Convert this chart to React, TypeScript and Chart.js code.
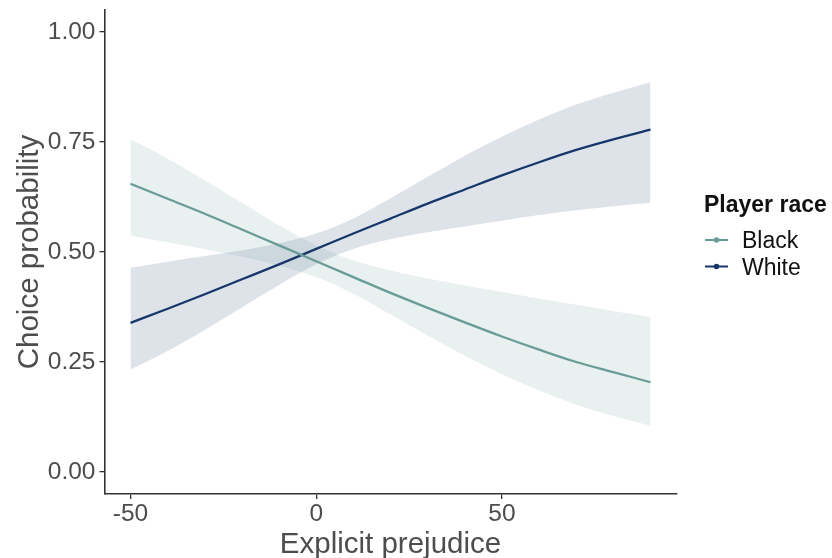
import React, { useEffect, useRef } from "react";
import { Chart, registerables } from "chart.js";

Chart.register(...registerables);

// ---- data ----
const xValues = [-50, -40, -30, -20, -10, 0, 10, 20, 30, 40, 50, 60, 70, 80, 90];

const blackFit = [0.655, 0.621, 0.587, 0.551, 0.515, 0.479, 0.443, 0.407, 0.373, 0.34, 0.308, 0.278, 0.25, 0.227, 0.204];
const blackUpper = [0.756, 0.712, 0.663, 0.612, 0.56, 0.515, 0.481, 0.458, 0.44, 0.424, 0.409, 0.394, 0.38, 0.366, 0.352];
const blackLower = [0.537, 0.522, 0.506, 0.489, 0.469, 0.443, 0.405, 0.358, 0.31, 0.264, 0.222, 0.185, 0.153, 0.127, 0.105];

const whiteFit = [0.339, 0.371, 0.404, 0.438, 0.472, 0.507, 0.542, 0.576, 0.61, 0.642, 0.674, 0.704, 0.732, 0.756, 0.778];
const whiteUpper = [0.464, 0.478, 0.491, 0.504, 0.52, 0.542, 0.576, 0.622, 0.671, 0.719, 0.762, 0.801, 0.835, 0.862, 0.886];
const whiteLower = [0.233, 0.275, 0.323, 0.374, 0.425, 0.472, 0.507, 0.529, 0.545, 0.558, 0.571, 0.584, 0.595, 0.604, 0.612];

const seriesNames = ["Black", "White"];
const xTickValues = [-50, 0, 50];
const yTickValues = [0, 0.25, 0.5, 0.75, 1];
const legendTitle = "Player race";
const xTitle = "Explicit prejudice";
const yTitle = "Choice probability";

// ---- styles ----
const FONT = '"Liberation Sans", Arial, Helvetica, sans-serif';
const LINE_COLORS: Record<string, string> = { Black: "#6a9c97", White: "#17376a" };
const FILL_COLORS: Record<string, string> = {
  Black: "rgba(106,156,151,0.15)",
  White: "rgba(23,55,106,0.14)",
};
const AXIS_COLOR = "#333333";
const TEXT_COLOR = "#4d4d4d";

const W = 832;
const H = 558;

export default function App() {
  const ref = useRef<HTMLCanvasElement>(null);

  useEffect(() => {
    if (!ref.current) return;
    const pts = (ys: number[]) => xValues.map((x, i) => ({ x, y: ys[i] }));

    const ribbon = (name: string, upper: number[], lower: number[]) => [
      {
        label: name + " upper",
        data: pts(upper),
        borderColor: "transparent",
        borderWidth: 0,
        pointRadius: 0,
        fill: "+1",
        backgroundColor: FILL_COLORS[name],
        cubicInterpolationMode: "monotone",
        order: 2,
      },
      {
        label: name + " lower",
        data: pts(lower),
        borderColor: "transparent",
        borderWidth: 0,
        pointRadius: 0,
        fill: false,
        cubicInterpolationMode: "monotone",
        order: 2,
      },
    ];

    const fitLine = (name: string, ys: number[]) => ({
      label: name,
      data: pts(ys),
      borderColor: LINE_COLORS[name],
      borderWidth: 2.3,
      pointRadius: 0,
      fill: false,
      cubicInterpolationMode: "monotone",
      order: 0,
    });

    const legendPlugin = {
      id: "ggLegend",
      afterDraw(chart: any) {
        const ctx = chart.ctx;
        ctx.save();
        ctx.fillStyle = "#111111";
        ctx.textAlign = "left";
        ctx.textBaseline = "alphabetic";
        ctx.font = `bold 23px ${FONT}`;
        ctx.fillText(legendTitle, 704, 211.5);
        seriesNames.forEach((name, i) => {
          const cy = 240 + i * 26.5;
          ctx.strokeStyle = LINE_COLORS[name];
          ctx.lineWidth = 2;
          ctx.beginPath();
          ctx.moveTo(705, cy);
          ctx.lineTo(728, cy);
          ctx.stroke();
          ctx.fillStyle = LINE_COLORS[name];
          ctx.beginPath();
          ctx.arc(716.5, cy, 2.8, 0, Math.PI * 2);
          ctx.fill();
          ctx.fillStyle = "#111111";
          ctx.font = `23px ${FONT}`;
          ctx.fillText(name, 742, cy + 8.3);
        });
        ctx.restore();
      },
    };

    const chart = new Chart(ref.current, {
      type: "line",
      data: {
        datasets: [
          ...ribbon("Black", blackUpper, blackLower),
          ...ribbon("White", whiteUpper, whiteLower),
          fitLine("Black", blackFit),
          fitLine("White", whiteFit),
        ] as any,
      },
      options: {
        animation: false,
        responsive: false,
        devicePixelRatio: 1,
        events: [],
        layout: { padding: { top: 10, right: W - 676.5, left: 0, bottom: 0 } },
        plugins: {
          legend: { display: false },
          tooltip: { enabled: false },
          title: { display: false },
        },
        scales: {
          x: {
            type: "linear",
            min: -57,
            max: 97,
            afterBuildTicks: (s: any) => {
              s.ticks = xTickValues.map((v) => ({ value: v }));
            },
            afterFit: (s: any) => {
              s.height = H - 494;
              s.paddingLeft = 0;
              s.paddingRight = 0;
            },
            grid: {
              drawOnChartArea: false,
              drawTicks: true,
              tickLength: 5,
              tickColor: AXIS_COLOR,
              lineWidth: 1.3,
            },
            border: { display: true, color: AXIS_COLOR, width: 1.6 },
            ticks: {
              padding: 1,
              color: TEXT_COLOR,
              font: { family: FONT, size: 24.5 },
              maxRotation: 0,
              autoSkip: false,
              callback: (v: any) => String(v),
            },
            title: {
              display: true,
              text: xTitle,
              color: TEXT_COLOR,
              font: { family: FONT, size: 29.5, lineHeight: 0.92 },
              padding: { top: 0, bottom: 0 },
            },
          },
          y: {
            type: "linear",
            min: -0.05,
            max: 1.05,
            afterBuildTicks: (s: any) => {
              s.ticks = yTickValues.map((v) => ({ value: v }));
            },
            afterFit: (s: any) => {
              s.width = 104.5;
              s.paddingTop = 0;
              s.paddingBottom = 0;
            },
            grid: {
              drawOnChartArea: false,
              drawTicks: true,
              tickLength: 5,
              tickColor: AXIS_COLOR,
              lineWidth: 1.3,
            },
            border: { display: true, color: AXIS_COLOR, width: 1.6 },
            ticks: {
              padding: 4,
              color: TEXT_COLOR,
              font: { family: FONT, size: 24.5 },
              autoSkip: false,
              callback: (v: any) => Number(v).toFixed(2),
            },
            title: {
              display: true,
              text: yTitle,
              color: TEXT_COLOR,
              font: { family: FONT, size: 29.5 },
              padding: { top: 12.5, bottom: 0 },
            },
          },
        },
      } as any,
      plugins: [legendPlugin],
    });

    return () => chart.destroy();
  }, []);

  return (
    <div style={{ position: "absolute", left: 0, top: 0, width: W, height: H, background: "#ffffff" }}>
      <canvas ref={ref} width={W} height={H} style={{ display: "block", width: W, height: H }} />
    </div>
  );
}
